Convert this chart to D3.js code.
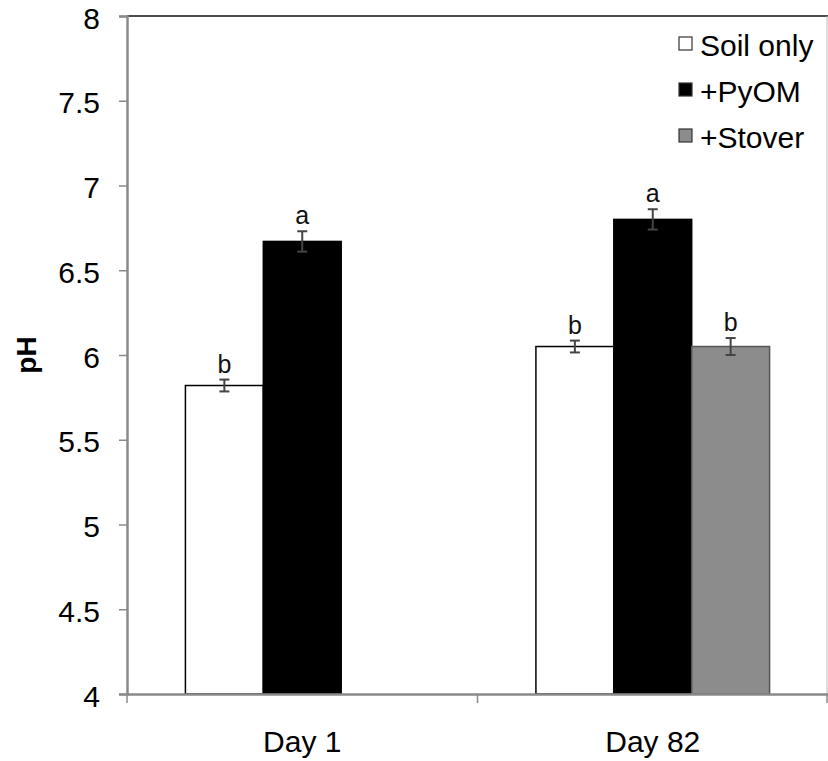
<!DOCTYPE html>
<html>
<head>
<meta charset="utf-8">
<script src="https://cdn.jsdelivr.net/npm/d3@7"></script>
<style>
  html, body { margin: 0; padding: 0; background: #fff; }
  svg { display: block; font-family: "Liberation Sans", Arial, sans-serif; }
</style>
</head>
<body>
<svg id="chart" width="828" height="761"></svg>
<script>
// Sampling days on the x axis
const days = ["Day 1", "Day 82"];
// Treatments (legend order)
const treatments = ["Soil only", "+PyOM", "+Stover"];
const treatmentColors = ["#ffffff", "#000000", "#8c8c8c"];
const treatmentStrokes = ["#000000", "#000000", "#555555"];

// Mean soil pH per treatment, one entry per day (null = not measured)
const soilOnlyPH = [5.82, 6.05];
const pyomPH = [6.67, 6.80];
const stoverPH = [null, 6.05];
// Standard errors
const soilOnlyErr = [0.035, 0.035];
const pyomErr = [0.06, 0.06];
const stoverErr = [null, 0.05];
// Significance letters
const soilOnlyLetters = ["b", "b"];
const pyomLetters = ["a", "a"];
const stoverLetters = [null, "b"];

const yTicks = [4, 4.5, 5, 5.5, 6, 6.5, 7, 7.5, 8];

const seriesValues = [soilOnlyPH, pyomPH, stoverPH];
const seriesErrors = [soilOnlyErr, pyomErr, stoverErr];
const seriesLetters = [soilOnlyLetters, pyomLetters, stoverLetters];

const bars = [];
days.forEach((day, di) => {
  treatments.forEach((t, ti) => {
    const v = seriesValues[ti][di];
    if (v == null) return;
    bars.push({ day, t, ti, v, e: seriesErrors[ti][di], letter: seriesLetters[ti][di] });
  });
});

const svg = d3.select("#chart");
const plotLeft = 127, plotRight = 828, plotTop = 16, plotBottom = 694;
const labelFont = "'Liberation Sans', Arial, sans-serif";

const x0 = d3.scaleBand().domain(days).range([plotLeft, plotRight]).paddingInner(0).paddingOuter(0);
const x1 = d3.scaleBand().domain(treatments).range([0, x0.bandwidth()]).paddingOuter(0.75).paddingInner(0);
const y = d3.scaleLinear().domain([4, 8]).range([plotBottom, plotTop]);

const axisGrey = "#8a8a8a";

// Frame: top and right edges
svg.append("line").attr("x1", plotLeft).attr("x2", plotRight).attr("y1", plotTop).attr("y2", plotTop)
  .attr("stroke", "#111").attr("stroke-width", 1.5);
svg.append("line").attr("x1", plotRight - 1).attr("x2", plotRight - 1).attr("y1", plotTop).attr("y2", plotBottom)
  .attr("stroke", "#bbb").attr("stroke-width", 1);

// Bars
svg.append("g").selectAll("rect").data(bars).join("rect")
  .attr("x", d => x0(d.day) + x1(d.t))
  .attr("y", d => y(d.v))
  .attr("width", x1.bandwidth())
  .attr("height", d => y(4) - y(d.v))
  .attr("fill", d => treatmentColors[d.ti])
  .attr("stroke", d => treatmentStrokes[d.ti])
  .attr("stroke-width", 1.5);

// Error bars
const eb = svg.append("g").attr("stroke", "#444").attr("stroke-width", 2);
bars.forEach(d => {
  const cx = x0(d.day) + x1(d.t) + x1.bandwidth() / 2;
  eb.append("line").attr("x1", cx).attr("x2", cx).attr("y1", y(d.v + d.e)).attr("y2", y(d.v - d.e));
  eb.append("line").attr("x1", cx - 5).attr("x2", cx + 5).attr("y1", y(d.v + d.e)).attr("y2", y(d.v + d.e));
  eb.append("line").attr("x1", cx - 5).attr("x2", cx + 5).attr("y1", y(d.v - d.e)).attr("y2", y(d.v - d.e));
});

// Significance letters
svg.append("g").selectAll("text").data(bars).join("text")
  .attr("x", d => x0(d.day) + x1(d.t) + x1.bandwidth() / 2)
  .attr("y", d => y(d.v + d.e) - 7)
  .attr("text-anchor", "middle")
  .attr("font-size", 25)
  .attr("fill", "#111")
  .text(d => d.letter);

// Y axis
const yAxis = svg.append("g").attr("transform", `translate(${plotLeft},0)`)
  .call(d3.axisLeft(y).tickValues(yTicks).tickSize(8).tickPadding(19)
    .tickFormat(d => d3.format("")(d)));
yAxis.select(".domain").attr("stroke", axisGrey).attr("stroke-width", 2.5);
yAxis.selectAll(".tick line").attr("stroke", axisGrey).attr("stroke-width", 1.5);
yAxis.selectAll(".tick text").attr("font-size", 30).attr("fill", "#000")
  .attr("dy", "0.4em").attr("font-family", labelFont);

// X axis
const xAxis = svg.append("g").attr("transform", `translate(0,${plotBottom})`)
  .call(d3.axisBottom(x0).tickSize(0).tickPadding(37));
xAxis.select(".domain").attr("stroke", axisGrey).attr("stroke-width", 2.5);
xAxis.selectAll(".tick text").attr("font-size", 30).attr("fill", "#000")
  .attr("font-family", labelFont);
// Category separators
svg.append("g").selectAll("line").data([plotLeft, x0(days[1]), plotRight - 1]).join("line")
  .attr("x1", d => d).attr("x2", d => d).attr("y1", plotBottom).attr("y2", plotBottom + 9)
  .attr("stroke", axisGrey).attr("stroke-width", 1.5);

// Y axis title
svg.append("text")
  .attr("transform", `translate(36,${(plotTop + plotBottom) / 2}) rotate(-90)`)
  .attr("text-anchor", "middle")
  .attr("font-size", 28).attr("font-weight", "bold")
  .text("pH");

// Legend
const legend = svg.append("g").attr("transform", "translate(679,30)");
treatments.forEach((t, i) => {
  const g = legend.append("g").attr("transform", `translate(0,${i * 46})`);
  g.append("rect").attr("x", 0).attr("y", 7).attr("width", 13).attr("height", 13)
    .attr("fill", treatmentColors[i]).attr("stroke", "#333").attr("stroke-width", 1.2);
  g.append("text").attr("x", 21).attr("y", 26).attr("font-size", 30).attr("fill", "#000").text(t);
});
</script>
</body>
</html>
